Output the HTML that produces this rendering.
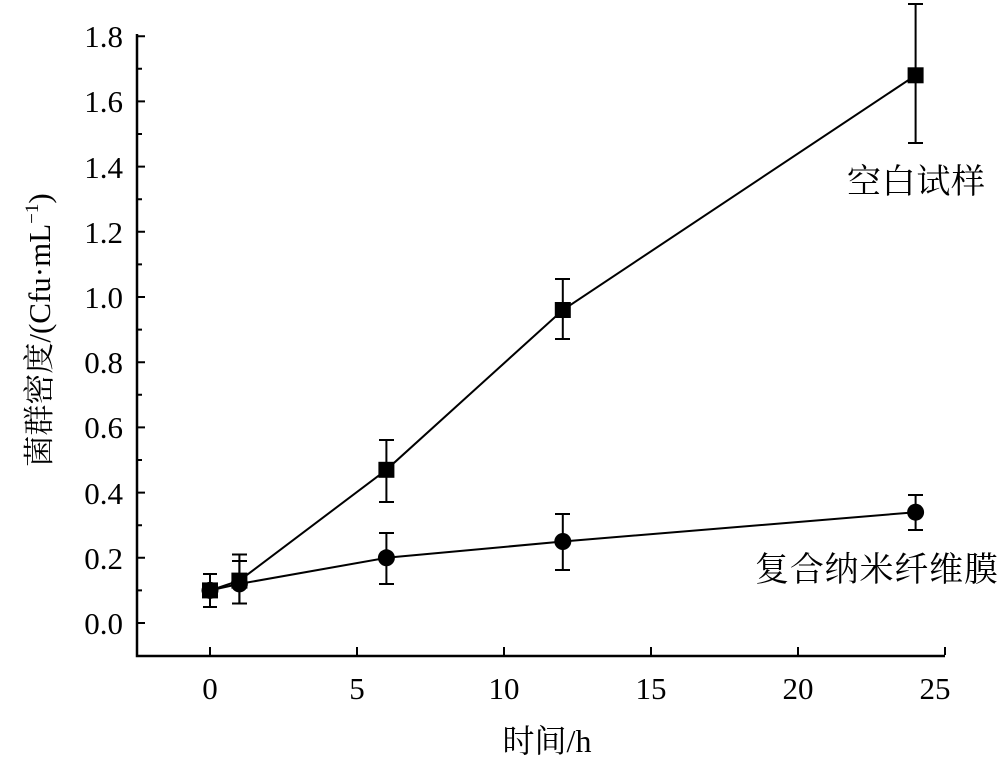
<!DOCTYPE html>
<html><head><meta charset="utf-8"><style>body{margin:0;background:#fff}</style></head><body>
<svg width="1000" height="763" xmlns="http://www.w3.org/2000/svg" font-family="Liberation Serif, Noto Serif CJK SC, serif" font-size="27">
<g stroke="#000" stroke-width="2.5" fill="none">
<path d="M137,34 V656 H945"/>
</g>
<g stroke="#000" stroke-width="2">
<path d="M137,623h8M137,557.8h8M137,492.6h8M137,427.4h8M137,362.2h8M137,297h8M137,231.8h8M137,166.6h8M137,101.4h8M137,36.2h8"/>
<path d="M137,590.4h5M137,525.2h5M137,460h5M137,394.8h5M137,329.6h5M137,264.4h5M137,199.2h5M137,134h5M137,68.8h5"/>
<path d="M210,655v-8M357,655v-8M504,655v-8M651,655v-8M798,655v-8M945,655v-8"/>
</g>
<g font-size="31" text-anchor="end">
<text x="123" y="634">0.0</text><text x="123" y="569">0.2</text><text x="123" y="504">0.4</text><text x="123" y="438">0.6</text><text x="123" y="373">0.8</text><text x="123" y="308">1.0</text><text x="123" y="243">1.2</text><text x="123" y="178">1.4</text><text x="123" y="112">1.6</text><text x="123" y="47">1.8</text>
</g>
<g font-size="31" text-anchor="middle">
<text x="210" y="699">0</text><text x="357" y="699">5</text><text x="504" y="699">10</text><text x="651" y="699">15</text><text x="798" y="699">20</text><text x="935" y="699">25</text>
<text x="547" y="752" font-size="32">时间/h</text>
</g>
<text transform="translate(50,330) rotate(-90)" text-anchor="middle" font-size="31">菌群密度/(Cfu·mL<tspan dy="-12" font-size="19">−1</tspan><tspan dy="12">)</tspan></text>
<text x="847" y="193" font-size="34" textLength="138">空白试样</text>
<text x="755" y="581" font-size="34" textLength="243">复合纳米纤维膜</text>
<g stroke="#000" stroke-width="2" fill="none">
<polyline points="210,590.4 239.4,580.6 386.4,469.8 562.8,310 915.6,75.3"/>
<polyline points="210,590.4 239.4,583.9 386.4,557.8 562.8,541.5 915.6,512.2"/>
<path d="M210,574v33M203,574h14M203,607h14"/>
<path d="M239.4,554.5v49M232,554.5h15M232,603.5h15"/>
<path d="M386.4,440v62M379,440h15M379,502h15"/>
<path d="M562.8,279v60M555,279h15M555,339h15"/>
<path d="M915.6,4v139M908,4h15M908,143h15"/>
<path d="M239.4,561v42"/><path d="M232,561h15"/>
<path d="M386.4,533v51M379,533h15M379,584h15"/>
<path d="M562.8,514v56M555,514h15M555,570h15"/>
<path d="M915.6,495v35M908,495h15M908,530h15"/>
</g>
<g fill="#000">
<rect x="202" y="582.4" width="16" height="16"/>
<rect x="231.4" y="572.6" width="16" height="16"/>
<rect x="378.4" y="461.8" width="16" height="16"/>
<rect x="554.8" y="302" width="16" height="16"/>
<rect x="907.6" y="67.3" width="16" height="16"/>
<circle cx="210" cy="590.4" r="8.5"/>
<circle cx="239.4" cy="583.9" r="8.5"/>
<circle cx="386.4" cy="557.8" r="8.5"/>
<circle cx="562.8" cy="541.5" r="8.5"/>
<circle cx="915.6" cy="512.2" r="8.5"/>
</g>
</svg>
</body></html>
